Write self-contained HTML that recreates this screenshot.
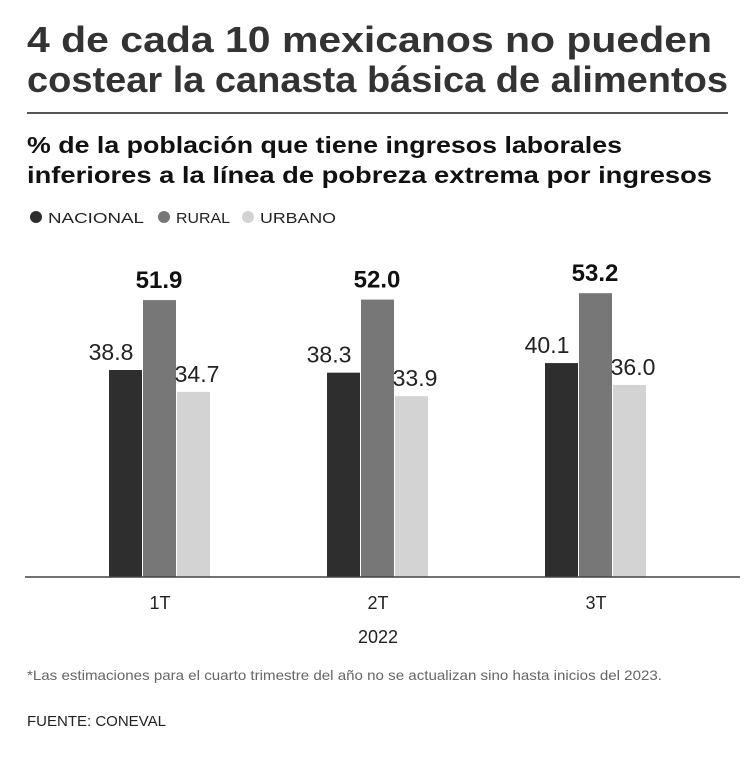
<!DOCTYPE html>
<html><head><meta charset="utf-8"><style>
body{margin:0;background:#fff;width:754px;height:752px;overflow:hidden;font-family:"Liberation Sans",sans-serif;color:#222}
</style></head><body>
<svg width="754" height="752" xmlns="http://www.w3.org/2000/svg">
<text x="27" y="52" font-size="36" font-weight="bold" fill="#333" textLength="685" lengthAdjust="spacingAndGlyphs">4 de cada 10 mexicanos no pueden</text>
<text x="27" y="92" font-size="36" font-weight="bold" fill="#333" textLength="701" lengthAdjust="spacingAndGlyphs">costear la canasta básica de alimentos</text>
<line x1="27" y1="113" x2="728" y2="113" stroke="#555" stroke-width="2"/>
<text x="27" y="153" font-size="23" font-weight="bold" fill="#111" textLength="595" lengthAdjust="spacingAndGlyphs">% de la población que tiene ingresos laborales</text>
<text x="27" y="183" font-size="23" font-weight="bold" fill="#111" textLength="685" lengthAdjust="spacingAndGlyphs">inferiores a la línea de pobreza extrema por ingresos</text>
<g font-size="15" fill="#222">
<circle cx="36" cy="217" r="6" fill="#2e2e2e"/><text x="48" y="223" textLength="96" lengthAdjust="spacingAndGlyphs">NACIONAL</text>
<circle cx="164" cy="217" r="6" fill="#777"/><text x="176" y="223" textLength="54" lengthAdjust="spacingAndGlyphs">RURAL</text>
<circle cx="248" cy="217" r="6" fill="#d3d3d3"/><text x="260" y="223" textLength="76" lengthAdjust="spacingAndGlyphs">URBANO</text>
</g>
<g id="bars"></g>
<line x1="25" y1="577" x2="740" y2="577" stroke="#444" stroke-width="1.5"/>
<text x="378" y="643" font-size="18" text-anchor="middle" fill="#222">2022</text>
<text x="27" y="680" font-size="14" fill="#666" textLength="635" lengthAdjust="spacingAndGlyphs">*Las estimaciones para el cuarto trimestre del año no se actualizan sino hasta inicios del 2023.</text>
<text x="27" y="726" font-size="15" fill="#222">FUENTE: CONEVAL</text>
</svg>
<script>
const categories=["1T","2T","3T"];
const nacional=[38.8,38.3,40.1];
const rural=[51.9,52.0,53.2];
const urbano=[34.7,33.9,36.0];
const series=[["nacional",nacional,"#2e2e2e"],["rural",rural,"#777"],["urbano",urbano,"#d3d3d3"]];
const NS="http://www.w3.org/2000/svg";
const g=document.getElementById("bars");
const y=v=>577-v*5.335;
const xc=i=>160+i*218;
categories.forEach((c,i)=>{
  series.forEach(([name,vals,col],j)=>{
    const x=xc(i)-51+j*34;
    const r=document.createElementNS(NS,"rect");
    r.setAttribute("x",x);r.setAttribute("y",y(vals[i]));r.setAttribute("width",33);r.setAttribute("height",577-y(vals[i]));r.setAttribute("fill",col);
    
    
    g.appendChild(r);
    const t=document.createElementNS(NS,"text");
    const bold=name==="rural";
    let tx=name==="nacional"?x+2:name==="urbano"?x+20:x+16;
    t.setAttribute("x",tx);t.setAttribute("y",y(vals[i])-(bold?12:10));
    t.setAttribute("text-anchor","middle");t.setAttribute("font-size",bold?24:23);
    if(bold)t.setAttribute("font-weight","bold");
    t.setAttribute("fill",bold?"#111":"#222");
    t.textContent=vals[i].toFixed(1);
    
    
    g.appendChild(t);
  });
  const l=document.createElementNS(NS,"text");
  l.setAttribute("x",xc(i));l.setAttribute("y",609);l.setAttribute("text-anchor","middle");l.setAttribute("font-size",18);l.setAttribute("fill","#222");
  l.textContent=c;
  
  
  g.appendChild(l);
});
</script>
</body></html>
